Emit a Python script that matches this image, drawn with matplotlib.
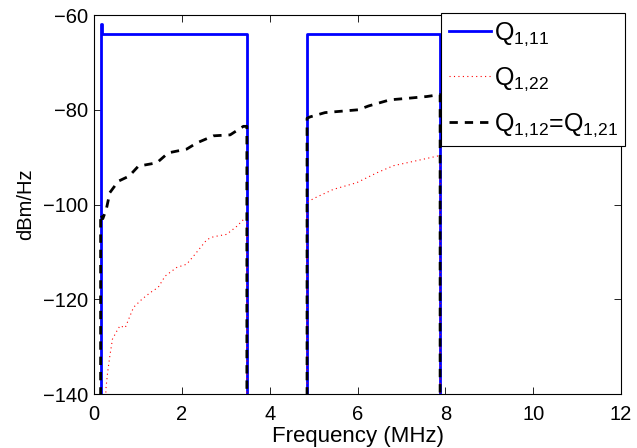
import numpy as np
import matplotlib
matplotlib.use('Agg')
import matplotlib.pyplot as plt

plt.rcParams['font.family'] = ['Liberation Sans', 'DejaVu Sans']
plt.rcParams['mathtext.fontset'] = 'custom'
plt.rcParams['mathtext.rm'] = 'Liberation Sans'
plt.rcParams['mathtext.it'] = 'Liberation Sans'

floor = -150  # edges drop below the axis

# Q_1,11 : flat PSD in two bands
q11_f1 = [0.15, 0.15, 0.19, 0.19, 3.48, 3.48]
q11_v1 = [floor, -62, -62, -64, -64, floor]
q11_f2 = [4.85, 4.85, 7.88, 7.88]
q11_v2 = [floor, -64, -64, floor]

# Q_1,22
q22_f1 = [0.27, 0.27, 0.31, 0.36, 0.42, 0.52, 0.59, 0.71, 0.82, 0.9, 1.09, 1.28, 1.46,
          1.62, 1.88, 2.11, 2.3, 2.57, 2.72, 3.02, 3.25, 3.4, 3.48, 3.48]
q22_v1 = [floor, -139, -135.4, -132, -128.4, -126.7, -125.6, -126, -123.5, -121.7, -120,
          -118.6, -117.5, -115.1, -113.3, -112.6, -110.5, -107.4, -106.8, -106.3, -104.6,
          -103.2, -103, floor]
q22_f2 = [4.85, 4.85, 5.03, 5.45, 5.98, 6.44, 6.82, 7.27, 7.81, 7.88, 7.88]
q22_v2 = [floor, -99.5, -98.6, -96.8, -95.4, -93.3, -91.8, -90.9, -89.8, -89.6, floor]

# Q_1,12 = Q_1,21
q12_f1 = [0.15, 0.15, 0.2, 0.28, 0.36, 0.55, 0.8, 1.01, 1.43, 1.69, 2.11, 2.34, 2.72,
          3.1, 3.4, 3.48, 3.48]
q12_v1 = [floor, -102, -103, -101, -97.5, -95.1, -94, -91.9, -91.2, -89.1, -88.3, -87,
          -85.5, -85.3, -83.5, -83.5, floor]
q12_f2 = [4.85, 4.85, 4.92, 5.26, 6.02, 6.25, 6.74, 7.12, 7.58, 7.88, 7.88]
q12_v2 = [floor, -81.8, -81.5, -80.6, -80, -79.2, -77.9, -77.6, -77.2, -76.8, floor]

fig = plt.figure(figsize=(6.37, 4.48), dpi=100)
ax = fig.add_axes([0.1476, 0.1205, 0.8274, 0.846])

ax.plot(q11_f1 + [np.nan] + q11_f2, q11_v1 + [np.nan] + q11_v2, color='#0000ff', lw=2,
        label=r'Q$_{1{,}11}$')
ax.plot(q22_f1 + [np.nan] + q22_f2, q22_v1 + [np.nan] + q22_v2, color='#ff0000', lw=0.8,
        ls=(0, (1, 3)), label=r'Q$_{1{,}22}$')
ax.plot(q12_f1 + [np.nan] + q12_f2, q12_v1 + [np.nan] + q12_v2, color='black', lw=2,
        ls=(0, (3, 2.5)), label=r'Q$_{1{,}12}$=Q$_{1{,}21}$')

ax.set_xlim(0, 12)
ax.set_ylim(-140, -60)
ax.set_xticks(range(0, 13, 2))
ax.set_yticks(range(-140, -59, 20))
ax.set_yticklabels(['\u2212%d' % -v for v in range(-140, -59, 20)])
ax.tick_params(direction='in', top=True, right=True, labelsize=14.5, length=5, width=0.6)
ax.tick_params(axis='x', pad=8)
ax.tick_params(axis='y', pad=4)
for s in ax.spines.values():
    s.set_linewidth(0.8)
ax.set_xlabel('Frequency (MHz)', fontsize=16, labelpad=1)
ax.set_ylabel('dBm/Hz', fontsize=14.5, labelpad=6)

leg = ax.legend(loc='upper right', bbox_to_anchor=(1.0076, 1.005), fontsize=18,
                fancybox=False, framealpha=1, edgecolor='black', handlelength=1.7,
                borderpad=0.3, labelspacing=0.72, handletextpad=0.1, borderaxespad=0)
leg.get_frame().set_linewidth(0.8)

fig.savefig('out.png', dpi=100)
